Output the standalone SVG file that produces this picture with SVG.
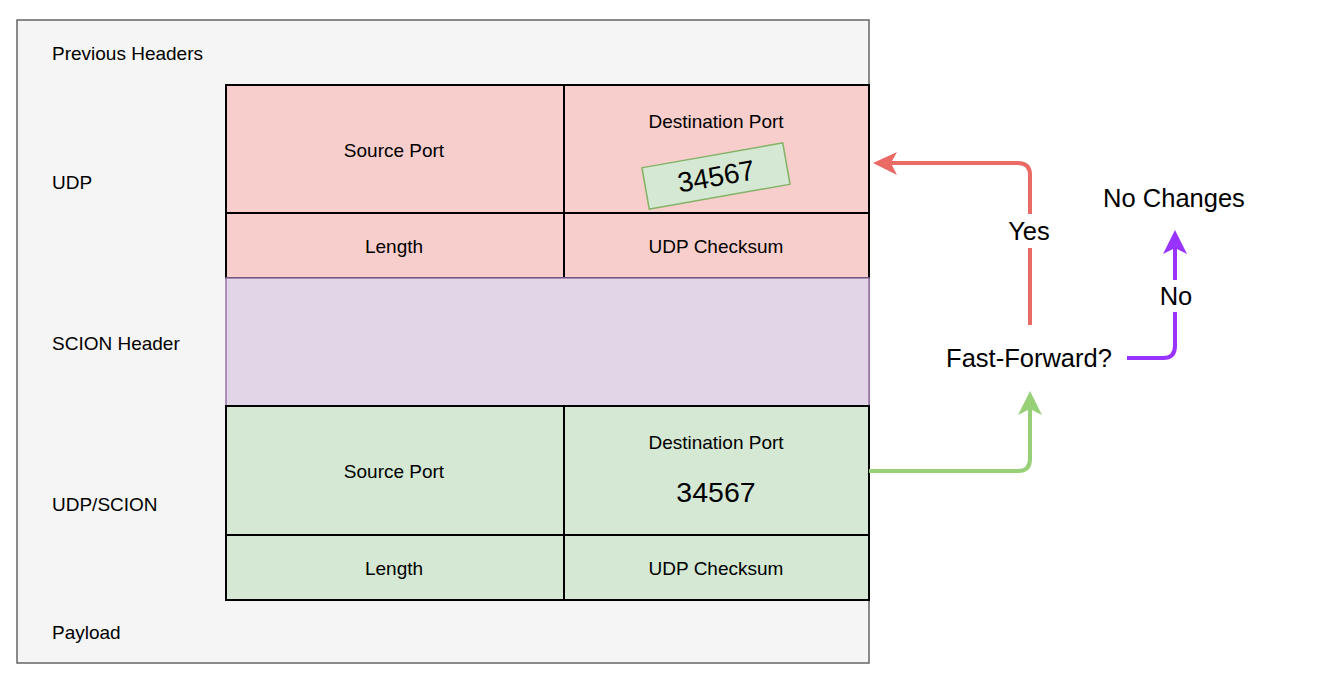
<svg xmlns="http://www.w3.org/2000/svg" width="1323" height="696" viewBox="0 0 1323 696">
<style>
text{font-family:"Liberation Sans",Arial,sans-serif;fill:#000}
.s{font-size:19px}
.m{font-size:25.5px}
.c{text-anchor:middle}
.red{fill:#f8cecc;stroke:#000;stroke-width:2}
.grn{fill:#d5e8d4;stroke:#000;stroke-width:2}
.ln{fill:none;stroke-width:4;stroke-linejoin:round}
</style>
<rect width="1323" height="696" fill="#fff"/>
<g id="outer">
<rect x="17" y="20" width="852" height="643" fill="#f5f5f5" stroke="#666" stroke-width="1.5"/>
<text class="s" x="52" y="60">Previous Headers</text>
<text class="s" x="52" y="189">UDP</text>
<text class="s" x="52" y="350">SCION Header</text>
<text class="s" x="52" y="511">UDP/SCION</text>
<text class="s" x="52" y="639">Payload</text>
</g>
<g id="udp">
<rect class="red" x="226" y="85" width="338" height="128"/>
<rect class="red" x="564" y="85" width="305" height="128"/>
<rect class="red" x="226" y="213" width="338" height="65"/>
<rect class="red" x="564" y="213" width="305" height="65"/>
<text class="s c" x="394" y="157">Source Port</text>
<text class="s c" x="716" y="128">Destination Port</text>
<text class="s c" x="394" y="253">Length</text>
<text class="s c" x="716" y="253">UDP Checksum</text>
</g>
<g id="udp-rotated-port" transform="rotate(-10 716 176)">
<rect x="644.5" y="155" width="143" height="42" fill="#d5e8d4" stroke="#82b366" stroke-width="1.5"/>
<text class="c" x="716" y="186" style="font-size:28px">34567</text>
</g>
<g id="scion">
<rect x="226" y="278" width="643" height="128" fill="#e1d5e7" stroke="#9673a6" stroke-width="1.5"/>
</g>
<g id="udpscion">
<rect class="grn" x="226" y="406" width="338" height="129"/>
<rect class="grn" x="564" y="406" width="305" height="129"/>
<rect class="grn" x="226" y="535" width="338" height="65"/>
<rect class="grn" x="564" y="535" width="305" height="65"/>
<text class="s c" x="394" y="478">Source Port</text>
<text class="s c" x="716" y="449">Destination Port</text>
<text class="c" x="716" y="502" style="font-size:28.5px">34567</text>
<text class="s c" x="394" y="575">Length</text>
<text class="s c" x="716" y="575">UDP Checksum</text>
</g>
<g id="fastforward">
<text class="m c" x="1029" y="367">Fast-Forward?</text>
</g>
<g id="nochanges">
<text class="m c" x="1174" y="207">No Changes</text>
</g>
<g id="connectors">
<path class="ln" stroke="#ea6b66" d="M1030 325 V175 Q1030 163 1018 163 H890"/>
<path fill="#ea6b66" d="M873 163 L897 152 L891 163 L897 175 Z"/>
<path class="ln" stroke="#97d077" d="M869 471 H1018 Q1030 471 1030 459 V405"/>
<path fill="#97d077" d="M1030 391 L1042 415 L1030 409 L1018 415 Z"/>
<path class="ln" stroke="#9933ff" d="M1127 358 H1163 Q1175 358 1175 346 V245"/>
<path fill="#9933ff" d="M1175 230 L1187 254 L1175 248 L1163 254 Z"/>
<rect x="1005" y="214" width="48" height="34" fill="#fff"/>
<text class="m c" x="1029" y="240">Yes</text>
<rect x="1155" y="280" width="42" height="32" fill="#fff"/>
<text class="m c" x="1176" y="305">No</text>
</g>
</svg>
